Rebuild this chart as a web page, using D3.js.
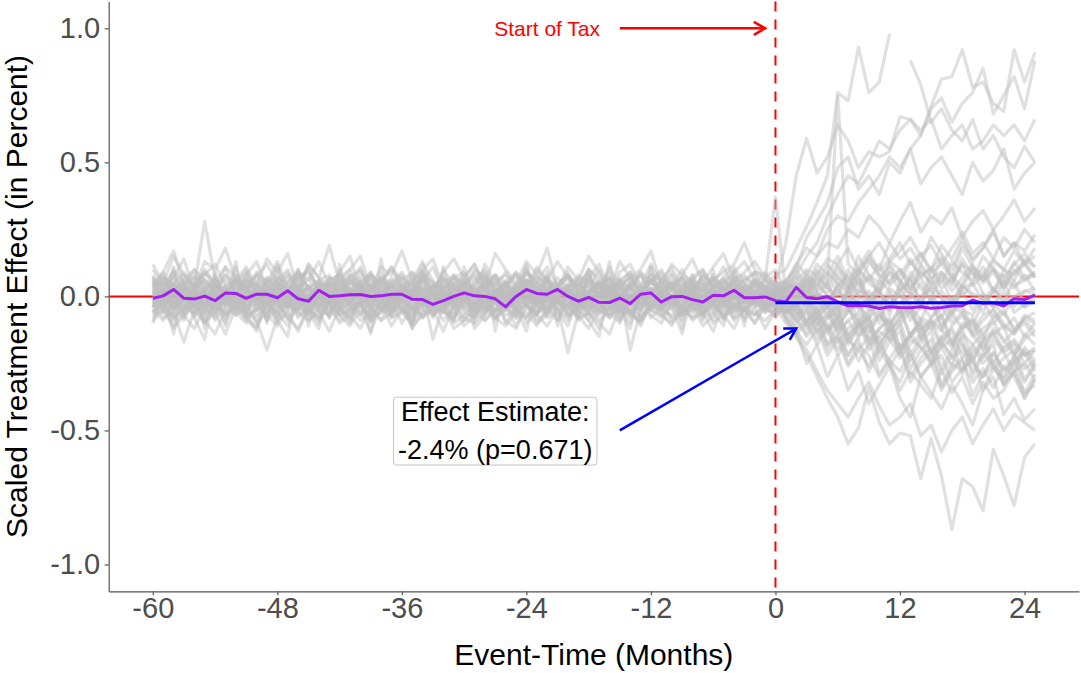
<!DOCTYPE html>
<html>
<head>
<meta charset="utf-8">
<script src="https://cdn.jsdelivr.net/npm/d3@7"></script>
<style>
  body { margin: 0; background: #fff; }
  svg { display: block; }
</style>
</head>
<body>
<div id="chart"></div>
<script>
const FONT = "Liberation Sans, Arial, sans-serif";
const COLOR_TREATED = "#a020f0";
const COLOR_PLACEBO = "#bebebe";
const COLOR_EFFECT = "#0000ff";
const COLOR_TAX = "#ff0000";
const COLOR_AXIS = "#555555";
const COLOR_TICKTEXT = "#4d4d4d";

// event time (months relative to start of tax)
const eventMonths = d3.range(-60, 26);
const xTicks = [-60, -48, -36, -24, -12, 0, 12, 24];
const yTicks = [-1.0, -0.5, 0.0, 0.5, 1.0];

// treated unit, scaled treatment effect, months -60 .. 25
const treatedEffect = [
  -0.007, 0.002, 0.026, -0.007, -0.010, 0.001, -0.016, 0.013, 0.011, -0.007,
  0.008, 0.008, -0.005, 0.021, -0.009, -0.018, 0.023, 0.000, 0.002, 0.006,
  0.007, 0.000, 0.002, 0.008, 0.008, -0.011, -0.012, -0.030, -0.016, 0.000,
  0.013, 0.002, 0.000, -0.009, -0.039, 0.000, 0.026, 0.011, 0.008, 0.026,
  0.000, -0.018, -0.004, -0.022, -0.023, -0.006, -0.027, 0.008, 0.013, -0.021,
  -0.001, 0.000, -0.012, -0.021, 0.004, 0.002, 0.023, -0.005, -0.005, -0.002,
  -0.016,
  -0.020, 0.034, -0.004, -0.009, -0.001, -0.020, -0.035, -0.034, -0.036, -0.045,
  -0.039, -0.041, -0.042, -0.039, -0.044, -0.041, -0.036, -0.035, -0.014, -0.026,
  -0.024, -0.036, -0.009, -0.012, 0.005
];

// effect estimate over the post period
const effectEstimate = -0.024;
const effectSpan = [0, 25];
const effectLabel = ["Effect Estimate:", "-2.4% (p=0.671)"];
const taxLabel = "Start of Tax";

// placebo units, in hundredths; pre period = months -60 .. 0
const placeboPre = [
  [3,-2,5,1,-4,2,6,-1,0,4, -3,2,5,-2,1,3,-4,0,2,6, -1,-3,4,2,0,-5,3,1,-2,4, 6,0,-3,2,5,-1,1,-4,3,2, 0,5,-2,-1,4,3,-3,1,6,2, -2,0,3,-4,5,1,-1,2,4,0, 3],
  [-4,1,-6,3,2,-3,-1,4,-5,0, 2,-4,1,3,-2,-6,0,2,-3,1, 4,-2,-5,0,3,1,-4,2,-1,-3, 1,4,-2,0,-5,3,2,-1,-4,0, -6,2,1,-3,4,0,-2,-5,1,3, -1,-4,2,0,-3,1,4,-2,-1,2, -3],
  [6,4,9,2,7,5,3,8,1,6, 4,7,2,5,9,3,6,1,4,8, 5,2,7,3,6,9,1,4,7,2, 5,8,3,6,1,4,9,5,2,7, 3,6,8,1,5,4,7,2,6,9, 3,5,1,8,4,6,2,7,5,3, 6],
  [-7,-3,-8,-5,-2,-9,-4,-6,-1,-8, -5,-3,-7,-2,-6,-9,-4,-1,-7,-5, -3,-8,-6,-2,-4,-9,-5,-7,-3,-1, -6,-8,-4,-2,-7,-5,-3,-9,-6,-1, -4,-8,-2,-5,-7,-3,-6,-9,-1,-4, -8,-5,-2,-7,-3,-6,-4,-8,-1,-5, -6],
  [2,5,1,8,4,28,6,-2,3,7, 1,-3,5,2,8,0,4,-1,6,3, 2,7,-2,4,1,5,9,0,3,-1, 6,2,4,8,-2,1,5,3,7,0, 4,-3,2,6,1,5,-1,3,8,2, 0,4,6,-2,3,7,1,5,2,4, 1],
  [-3,-8,-6,-17,-5,-10,-2,-7,-4,-9, -12,-3,-6,-1,-8,-5,-10,-2,-7,-4, -9,-6,-3,-11,-5,-8,-1,-6,-4,-10, -7,-2,-9,-5,-3,-8,-6,-11,-4,-2, -7,-5,-9,-3,-6,-10,-1,-8,-4,-5, -7,-3,-9,-6,-2,-8,-5,-4,-10,-3, -6],
  [5,9,17,4,10,6,2,11,7,3, 8,12,5,1,9,6,13,4,7,10, 2,8,5,11,3,9,6,1,10,4, 7,12,3,8,5,2,9,6,11,4, 8,3,10,7,1,6,9,4,12,5, 2,8,6,10,3,7,11,5,9,8, 4],
  [-2,3,-5,0,-4,1,-7,2,-3,-6, -9,-20,-8,-3,-5,0,-4,-7,-1,-6, -3,-9,-2,-5,1,-4,-8,-2,-6,0, -3,-7,-1,-5,-4,-8,0,-3,-6,-2, -5,-1,-7,-4,-2,-6,-3,0,-5,-8, -2,-4,-6,-1,-3,-7,-5,-2,-4,-1, -3],
  [1,-3,4,-1,2,-5,3,0,-2,5, -4,1,3,-3,0,4,-2,2,-5,1, 3,-1,5,-4,0,2,-3,4,1,-2, 0,3,-5,2,-1,4,0,-3,2,-4, -21,-6,1,3,-2,0,4,-1,2,-3, 5,1,-4,0,3,-2,1,4,-1,2, -1],
  [4,0,-3,2,5,-1,3,-4,1,6, 2,-2,4,0,-5,3,1,-3,5,2, -1,4,0,-2,3,6,-4,1,2,-3, 4,0,5,-1,-3,2,6,1,-2,3, 0,-4,2,5,-1,3,-20,-5,2,4, 0,-3,1,5,-2,3,0,4,-1,2, 1],
  [-1,2,-4,3,0,-2,5,-3,1,-5, 2,-1,4,-2,0,3,-4,1,-3,2, 5,-1,0,-4,3,1,-2,4,-5,0, 2,-3,1,4,-1,-2,3,0,-4,2, 1,-3,5,0,-2,4,-1,2,-3,1, 0,3,-2,4,6,9,12,20,10,6, 37],
  [8,-6,11,-9,5,-12,9,-4,13,-8, 6,-10,12,-5,8,-11,4,-7,10,-3, 7,-9,14,-6,3,-12,9,-8,11,-4, 6,-10,8,-13,5,-7,12,-2,9,-11, 4,-8,10,-6,13,-9,7,-5,11,-3, 8,-12,6,-9,10,-4,7,-11,9,-6, 5],
  [0,2,-1,1,3,-2,0,2,1,-1, 3,0,-2,1,2,-1,0,3,-2,1, 2,0,-1,3,1,-2,2,0,1,-1, 3,-2,0,2,1,-1,2,0,-2,3, 1,-1,2,0,3,-2,1,0,2,-1, 3,1,-2,0,2,1,-1,3,0,2, 1],
  [-5,-9,-2,-7,-12,-4,-8,-1,-6,-10, -3,-7,-11,-5,-2,-9,-6,-13,-4,-8, -1,-10,-5,-7,-3,-12,-6,-2,-9,-4, -11,-7,-3,-8,-5,-1,-10,-6,-4,-9, -2,-7,-12,-5,-8,-3,-6,-10,-4,-1, -9,-6,-3,-11,-7,-2,-8,-5,-10,-4, -7],
  [7,3,10,5,1,8,12,4,6,2, 9,5,13,3,7,10,1,6,8,4, 11,2,7,5,9,3,12,6,1,8, 4,10,7,2,5,9,3,11,6,1, 8,4,7,12,3,5,9,2,6,10, 4,7,1,8,5,11,3,6,9,2, 5],
  [-2,1,-3,0,2,-4,1,-1,3,-2, 0,-3,2,1,-4,0,3,-2,1,-1, -3,2,0,-2,4,-1,-3,1,0,2, -1,-4,2,0,1,-3,3,-1,-2,1, 0,2,-3,1,-1,3,-2,0,1,-4, 2,-1,0,3,-2,1,-3,0,2,-1, 0],
  [3,6,1,4,8,2,5,-1,7,3, 0,6,4,9,2,-2,5,3,7,1, 4,8,0,6,2,5,-1,3,7,4, 1,5,9,2,6,0,4,8,3,-1, 5,2,7,4,1,6,3,9,0,5, 2,7,4,1,8,3,6,0,4,7, 2],
  [-6,-2,-9,-4,0,-7,-3,-10,-1,-5, -8,-2,-6,-11,-3,-7,0,-4,-9,-5, -2,-8,-6,-1,-10,-4,-7,-3,-5,-9, 0,-6,-2,-8,-4,-11,-3,-7,-1,-5, -9,-3,-6,-2,-8,-4,-10,0,-5,-7, -3,-9,-1,-6,-4,-8,-2,-5,-7,-3, -4],
  [10,4,7,14,2,9,5,11,0,8, 13,3,6,10,1,12,7,4,9,15, 2,8,5,11,6,0,10,14,3,7, 9,1,12,5,8,4,11,2,6,13, 7,3,10,5,1,9,12,4,8,6, 11,2,7,10,3,5,9,13,6,4, 8],
  [-1,-4,2,-6,0,-3,1,-8,-2,3, -5,-1,-7,2,-3,0,-6,1,-4,-9, -2,3,-5,-1,0,-7,2,-3,-6,1, -4,-8,0,-2,3,-5,-1,-7,2,-3, 0,-6,-2,1,-4,-9,0,-3,2,-5, -1,-6,3,-2,-4,0,-8,1,-3,-5, -2],
  [-10,2,-14,5,-8,-16,3,-11,6,-7, -13,1,-9,-15,4,-6,-12,7,-4,-10, -1,-14,3,-8,-5,-11,2,-16,-3,-9, 5,-12,-7,1,-10,-4,-13,3,-8,-6, -11,0,-9,-15,4,-5,-12,2,-7,-10, -3,-14,1,-8,-6,-11,3,-9,-4,-12, -5],
  [12,5,15,8,3,13,10,18,6,11, 4,14,9,16,2,12,7,19,5,10, 15,3,11,8,17,6,13,1,9,14, 7,12,4,16,10,5,13,8,18,3, 11,6,15,9,2,13,7,10,17,4, 12,8,14,5,11,16,6,9,13,7, 10],
  [1,-2,0,3,-1,2,-3,1,0,-2, 2,1,-1,0,3,-2,1,-3,2,0, -1,2,1,-2,0,3,-1,1,-2,2, 0,-3,1,2,-1,0,3,-2,1,-1, 2,0,-2,1,3,-1,0,2,-3,1, -1,2,0,-2,1,3,-1,0,2,-2, 0],
  [5,1,-2,4,7,0,3,-3,6,2, -1,5,8,1,4,-2,6,3,0,7, 2,-3,5,4,1,8,-1,3,6,0, 4,7,2,-2,5,1,6,3,-1,4, 8,2,0,5,3,7,-2,4,1,6, 3,0,5,2,7,4,-1,3,6,2, 3],
  [-8,-4,-11,-6,-2,-9,-14,-5,-7,-3, -10,-6,-1,-8,-12,-4,-9,-2,-7,-11, -5,-13,-3,-8,-6,-10,-1,-7,-4,-12, -9,-5,-2,-8,-11,-6,-3,-10,-7,-4, -1,-9,-6,-12,-3,-8,-5,-11,-2,-7, -10,-4,-8,-6,-13,-2,-9,-5,-7,-3, -8],
  [4,8,2,6,10,3,7,1,5,9, 0,6,3,8,4,11,2,7,5,1, 9,3,6,10,4,0,8,5,2,7, 3,9,6,1,4,8,2,10,5,3, 7,0,6,4,9,2,5,8,1,6, 4,10,3,7,2,5,9,1,6,4, 2],
  [-3,0,-5,-1,-4,2,-6,-2,0,-3, -7,-1,1,-4,-2,-5,0,-3,-6,-1, 2,-4,-2,-7,0,-3,-5,1,-2,-4, -1,-6,0,-3,-5,-2,1,-4,-7,-1, -3,0,-5,-2,-4,1,-6,-3,0,-2, -5,-1,-4,-7,-2,0,-3,-6,-1,-4, -2],
  [2,7,4,0,5,9,3,6,1,8, 4,2,7,5,10,3,0,6,8,2, 5,9,1,4,7,3,6,11,2,5, 8,0,4,7,3,9,5,1,6,4, 2,8,5,3,7,0,4,9,6,2, 5,3,8,1,6,4,7,2,5,9, 4],
  [-4,3,-2,5,-6,1,-3,4,-5,2, -1,6,-4,0,3,-7,2,-2,5,-3, 1,-5,4,-1,2,-6,3,0,-4,5, -2,1,-5,3,-1,4,-3,2,-6,0, 3,-4,1,5,-2,0,-5,3,-1,2, -4,1,4,-3,0,2,-5,3,-2,1, -1],
  [6,-3,9,-5,4,-7,8,-2,11,-6, 3,-9,7,-1,10,-4,5,-8,12,-3, 6,-7,9,-2,4,-10,8,-5,3,-6, 11,-1,7,-8,5,-4,10,-3,6,-9, 2,-5,9,-2,7,-6,4,-8,11,-1, 5,-7,8,-4,3,-9,10,-2,6,-5, 4],
  [0,-1,1,-2,0,2,-1,0,1,-1, 0,2,-2,1,0,-1,1,0,-2,2, 0,-1,1,0,2,-1,0,-2,1,0, -1,1,2,-1,0,1,-2,0,1,-1, 2,0,-1,1,0,-2,1,0,-1,2, 0,1,-1,0,2,-1,1,0,-2,1, 0],
  [-9,-5,-12,-7,-3,-10,-6,-14,-4,-8, -11,-2,-9,-6,-13,-5,-8,-3,-10,-7, -12,-4,-9,-6,-1,-11,-7,-5,-13,-3, -8,-10,-6,-2,-9,-12,-4,-7,-11,-5, -3,-8,-6,-10,-14,-4,-7,-9,-2,-6, -11,-5,-8,-3,-10,-7,-12,-4,-6,-9, -5],
  [2,-1,4,0,-3,3,1,-2,5,-1, 0,3,-2,2,4,-3,1,-1,3,0, -2,4,1,-3,2,0,5,-1,-2,3, 1,-4,2,0,3,-1,4,-2,1,0, 3,-3,2,1,-1,4,0,-2,3,1, -1,2,4,-3,0,1,3,-2,2,0, 1],
  [-3,0,-1,-5,2,-2,-4,1,-3,-1, -5,0,-2,-4,1,-3,-1,-6,0,-2, -4,1,-3,-5,-1,0,-2,-4,2,-3, -1,-5,0,-2,-4,1,-3,-1,-6,0, -2,-4,1,-3,-5,-1,0,-2,-4,1, -3,-1,-5,0,-2,-4,1,-3,-1,-2, -3],
  [5,2,7,3,0,6,4,1,8,3, 5,0,6,2,7,4,1,5,3,8, 0,4,6,2,5,1,7,3,4,0, 6,2,5,8,1,3,6,4,0,5, 7,2,4,1,6,3,8,0,5,2, 4,7,1,3,6,2,5,0,4,3, 2],
  [-1,-6,-3,0,-8,-2,-5,-1,-7,-4, 0,-6,-2,-9,-3,-1,-5,-7,0,-4, -2,-8,-3,-6,0,-5,-1,-7,-4,-2, -9,-3,0,-6,-1,-5,-8,-2,-4,0, -7,-3,-1,-6,-4,-2,-8,0,-5,-3, -1,-7,-2,-4,-6,0,-3,-5,-1,-4, -2],
  [3,7,-2,5,1,-4,6,2,-1,4, 8,0,-3,5,2,7,-1,3,6,-2, 4,1,7,-3,2,5,0,-4,6,3, -1,4,8,1,-2,5,3,-3,7,0, 2,6,-1,4,1,-4,5,3,0,7, -2,4,2,6,-1,3,5,-3,1,4, 2],
  [-2,-5,1,-3,-7,0,-4,-1,-6,2, -3,-5,-1,-8,0,-2,-6,1,-4,-3, -7,-1,0,-5,-2,-4,1,-6,-3,0, -5,-2,-7,1,-3,-4,0,-6,-1,-2, -5,1,-4,-3,-7,0,-2,-5,1,-4, -1,-6,-3,0,-5,-2,-4,-1,-3,-2, -4],
  [1,3,0,2,-1,4,1,3,-2,2, 0,4,1,-1,3,2,0,5,-1,2, 3,0,1,4,-2,2,3,1,0,4, 2,-1,3,1,5,0,2,-2,4,1, 3,0,2,5,-1,1,4,0,3,2, -1,2,4,1,0,3,-2,2,1,3, 0],
  [-6,-1,-4,-8,-2,-5,0,-7,-3,-6, -1,-9,-4,-2,-7,-5,0,-8,-3,-6, -2,-4,-9,-1,-5,-7,-3,0,-6,-8, -2,-5,-4,-9,-1,-7,-3,-6,0,-5, -8,-2,-4,-7,-1,-6,-3,-9,-2,-5, 0,-7,-4,-6,-1,-8,-3,-5,-2,-6, -4],
  [4,9,1,6,3,10,5,0,7,2, 8,4,11,1,6,9,3,5,0,7, 10,2,6,4,8,1,9,5,3,7, 0,6,10,2,4,8,1,7,5,3, 9,0,6,2,11,4,7,1,5,8, 3,6,0,9,4,2,7,5,1,6, 3],
  [0,-3,2,-1,1,-4,0,2,-2,1, -3,0,3,-1,-2,1,-4,2,0,-1, 1,-3,2,0,-2,3,-1,0,-4,1, 2,-2,0,1,-3,2,-1,0,3,-2, -1,1,-4,0,2,-1,3,-3,0,1, -2,2,0,-1,1,-3,2,0,-2,1, -1],
  [-4,2,-7,0,-3,4,-6,1,-5,-1, 3,-8,0,-4,2,-6,-2,1,-5,3, -7,0,-3,2,-6,-1,4,-4,0,-8, 1,-3,-6,2,-2,-5,3,-7,0,-1, -4,2,-6,0,-3,1,-7,-2,3,-5, 0,-4,2,-6,-1,-3,1,-5,0,-2, -3],
  [7,2,5,9,3,6,1,8,4,10, 2,7,5,0,9,3,6,8,1,5, 4,9,2,7,3,6,10,1,5,8, 3,0,7,4,9,2,6,5,8,1, 4,7,3,10,0,6,2,8,5,3, 9,1,6,4,7,2,5,8,3,6, 4],
  [-2,0,-4,-1,-3,1,-5,-2,0,-3, -1,-4,2,-2,-5,0,-3,-1,1,-4, -2,0,-5,-1,-3,2,-2,-4,0,-1, -3,1,-5,-2,0,-4,-1,-3,2,-2, 0,-4,-1,-5,1,-3,-2,0,-4,-1, -3,2,-2,-5,0,-1,-4,-2,1,-3, -1],
  [1,5,3,-1,4,2,6,0,3,5, -2,4,1,7,2,0,5,3,-1,6, 2,4,0,5,3,1,7,-1,4,2, 6,0,3,5,1,-2,4,6,2,3, 0,5,1,4,7,-1,3,2,6,0, 4,1,5,3,-2,6,2,4,0,3, 5],
  [-5,-2,-8,-3,-6,-1,-9,-4,-2,-7, -5,-3,-10,-1,-6,-4,-8,-2,-5,-7, -3,-9,-1,-6,-4,-2,-8,-5,-3,-7, -1,-6,-9,-4,-2,-5,-8,-3,-6,-1, -7,-4,-2,-9,-5,-3,-6,-1,-8,-4, -2,-7,-5,-3,-9,-1,-6,-4,-2,-5, -3],
  [2,-4,5,-2,3,-6,1,4,-3,6, -1,2,-5,4,0,-3,5,-2,3,-4, 1,6,-1,-5,3,2,-3,4,-1,5, -4,2,0,-6,3,1,-2,5,-3,2, 4,-1,-5,3,0,6,-2,1,-4,3, 5,-3,2,-1,4,-5,1,3,-2,0, 2]
];

// placebo units, in hundredths; post period = months 1 .. 25 (null = missing)
const placeboPost = [
  [2,-3,4,-1,5,-4,1,6,-2,3,-5,2,7,-3,4,0,-6,3,5,-2,1,6,-4,2,3],
  [-4,-8,-2,-10,-6,-12,-5,-9,-14,-7,-11,-4,-15,-8,-10,-13,-6,-12,-9,-16,-7,-11,-14,-8,-10],
  [2,6,10,8,14,12,18,10,15,20,13,17,22,15,19,12,18,24,16,20,14,22,18,25,20],
  [-2,-6,-10,-5,-13,-9,-16,-11,-8,-18,-12,-20,-14,-10,-22,-15,-19,-12,-24,-17,-14,-21,-18,-25,-20],
  [3,10,22,28,35,48,52,40,45,38,50,46,55,42,48,52,45,38,50,43,47,55,40,46,50],
  [-5,-12,-25,-18,-30,-22,-35,-28,-40,-33,-26,-38,-45,-30,-36,-42,-33,-40,-48,-35,-30,-44,-38,-46,-42],
  [20,45,59,46,52,64,58,48,54,52,54,67,66,62,66,55,60,64,55,58,64,60,64,58,66],
  [-8,-14,-10,-18,-12,-22,-16,-20,-26,-18,-24,-28,-20,-30,-25,-22,-32,-27,-24,-30,-26,-33,-28,-25,-31],
  [0,-4,2,-6,-1,-8,3,-5,-2,-10,1,-7,-3,-9,0,-12,-4,-6,-11,-2,-8,-5,-13,-7,-9],
  [4,0,7,2,-3,5,1,8,-1,4,9,2,6,-2,10,3,7,0,5,11,2,8,4,6,9],
  [1,4,-2,6,0,-5,3,8,-3,2,-7,5,1,-4,7,-1,-8,4,0,-6,3,-2,6,-4,1],
  [-8,-15,-22,-30,-38,-45,-55,-49,-34,-47,-55,-51,-52,-68,-53,-67,-87,-68,-71,-80,-57,-67,-78,-60,-55],
  [1,-1,3,0,-2,4,-3,2,1,-4,3,0,-1,5,-2,2,-3,4,1,-1,3,-2,0,2,1],
  [-3,-10,-5,-14,-8,-4,-17,-11,-7,-20,-13,-9,-22,-15,-11,-19,-26,-14,-18,-23,-16,-21,-28,-19,-24],
  [5,12,18,15,25,30,28,35,40,45,52,48,55,60,71,81,82,92,78,80,72,69,92,80,91],
  [-1,-5,-2,-8,-4,-11,-6,-3,-13,-7,-10,-5,-15,-9,-12,-7,-17,-11,-8,-14,-10,-6,-12,-9,-13],
  [5,12,8,15,20,18,25,22,30,26,20,28,35,24,30,27,33,22,28,32,25,30,36,28,33],
  [-10,-15,-20,-28,-35,-40,-45,-38,-32,-41,-48,-45,-40,-52,-48,-58,-50,-45,-55,-48,-42,-50,-44,-47,-50],
  [10,18,26,35,45,76,73,93,76,80,98,null,88,79,65,70,62,58,66,55,60,52,48,56,50],
  [-2,1,-4,-1,-7,-3,0,-9,-5,-2,-11,-6,-3,-13,-8,-4,-10,-6,-14,-9,-5,-12,-8,-15,-10],
  [-5,-9,-14,-7,-18,-11,-22,-15,-10,-24,-17,-13,-27,-20,-16,-29,-22,-18,-25,-30,-21,-27,-23,-32,-26],
  [2,8,15,20,30,38,45,42,50,58,55,62,66,60,70,74,65,72,76,85,68,75,82,70,88],
  [2,5,-1,8,3,0,10,4,7,1,12,6,2,9,5,14,8,3,11,6,10,4,13,7,9],
  [5,8,3,10,6,12,4,9,14,7,11,5,13,8,10,15,6,12,9,7,13,10,8,14,11],
  [-3,-8,-15,-10,-20,-14,-25,-18,-22,-30,-24,-35,-28,-33,-38,-27,-36,-30,-40,-32,-38,-35,-28,-36,-33],
  [3,7,1,9,4,11,6,2,13,8,5,10,3,12,7,9,4,14,8,6,11,3,9,12,7],
  [-6,-2,-9,-4,-12,-7,-3,-14,-8,-5,-16,-10,-6,-13,-9,-18,-11,-7,-15,-12,-9,-17,-13,-10,-15],
  [3,0,6,2,5,75,12,8,15,10,20,14,18,12,22,16,10,20,14,18,25,15,20,12,18],
  [3,-2,6,1,-4,4,8,0,-3,6,2,-5,9,3,-1,7,-2,5,10,1,-4,6,3,8,2],
  [6,2,9,4,12,7,3,15,8,5,13,10,6,16,9,12,7,18,11,8,14,10,17,12,15],
  [-6,-3,-11,-8,-4,-14,-9,-6,-17,-12,-8,-19,-14,-10,-21,-15,-12,-18,-24,-16,-13,-20,-17,-22,-19],
  [0,-6,-12,-8,-18,-15,-22,-16,-28,-20,-26,-32,-22,-30,-25,-35,-28,-24,-32,-27,-34,-26,-30,-38,-31],
  [-2,-6,-4,-10,-7,-13,-9,-15,-11,-18,-12,-21,-16,-19,-24,-17,-22,-27,-19,-25,-21,-28,-24,-20,-26],
  [3,-1,5,0,-4,2,-2,6,-5,1,-3,4,-6,0,3,-8,-1,2,-5,1,-3,-7,0,-4,-2],
  [-5,-3,-9,-6,-12,-8,-15,-10,-18,-13,-16,-22,-14,-19,-25,-17,-23,-20,-28,-21,-26,-30,-22,-27,-24],
  [6,10,4,12,8,15,6,11,17,9,14,20,12,16,10,19,14,22,13,18,24,15,20,17,23],
  [-1,-4,0,-7,-3,-9,-5,-2,-11,-6,-13,-8,-4,-15,-9,-12,-18,-10,-14,-20,-12,-16,-22,-14,-18],
  [0,2,-3,1,-2,3,-5,-1,2,-4,0,-6,1,-3,-8,-2,0,-5,-7,-1,-4,2,-6,-3,-1],
  [-7,-12,-9,-16,-11,-20,-14,-24,-18,-15,-26,-20,-30,-23,-19,-33,-25,-28,-22,-35,-27,-31,-24,-36,-29],
  [4,1,7,3,9,5,2,10,6,12,4,8,14,7,11,5,13,9,6,15,10,7,12,16,11],
  [-3,-7,-5,-11,-8,-6,-14,-10,-16,-12,-9,-19,-15,-11,-21,-16,-13,-23,-18,-14,-25,-19,-16,-22,-20],
  [1,-2,3,-4,0,-6,2,-3,-8,-1,-5,1,-9,-4,-2,-11,-6,-3,-13,-7,-5,-10,-14,-8,-6],
  [-4,-9,-6,-13,-10,-17,-12,-9,-20,-15,-11,-23,-18,-14,-26,-19,-16,-29,-21,-17,-27,-23,-20,-31,-25],
  [2,5,1,7,3,9,4,0,8,2,6,10,3,7,1,9,5,12,4,8,2,10,6,13,7],
  [-6,-4,-10,-7,-14,-9,-18,-12,-8,-21,-15,-11,-24,-17,-13,-27,-20,-15,-30,-22,-18,-33,-25,-21,-28],
  [0,-3,-1,-6,-2,-8,-4,-11,-6,-3,-13,-8,-5,-16,-10,-7,-18,-12,-9,-20,-14,-11,-22,-16,-13],
  [5,3,8,4,1,7,3,10,5,2,9,6,0,11,4,8,2,7,12,5,9,3,10,6,8],
  [-9,-13,-18,-12,-22,-16,-26,-20,-15,-29,-23,-18,-32,-25,-21,-34,-27,-23,-37,-29,-24,-33,-28,-38,-31]
];
const PLACEBO_UNIT = 0.01;

// annotation anchors (data coordinates)
const taxLabelAt = [-22, 1.0];
const taxArrow = [[-15, 1.0], [-1, 1.0]];
const effectLabelAt = [-27, -0.5];
const effectArrow = [[-15, -0.5], [2, -0.12]];

// ---------- layout ----------
const chartSize = { width: 1081, height: 673 };
const plot = { left: 108.7, right: 1079, top: 1.5, bottom: 591.3 };

const svg = d3.select("#chart").append("svg")
  .attr("width", chartSize.width)
  .attr("height", chartSize.height)
  .attr("font-family", FONT);

const x = d3.scaleLinear().domain([-64.25, 29.25]).range([plot.left, plot.right]);
const y = d3.scaleLinear().domain([-1.1, 1.1]).range([plot.bottom, plot.top]);

const refLayer = svg.append("g");
const lineLayer = svg.append("g");
const annoLayer = svg.append("g");
const axisLayer = svg.append("g");

// reference lines: zero and start of tax
refLayer.append("line")
  .attr("x1", plot.left).attr("x2", plot.right)
  .attr("y1", y(0)).attr("y2", y(0))
  .attr("stroke", COLOR_TAX).attr("stroke-width", 2);
refLayer.append("line")
  .attr("x1", x(0)).attr("x2", x(0))
  .attr("y1", plot.top).attr("y2", plot.bottom)
  .attr("stroke", COLOR_TAX).attr("stroke-width", 2)
  .attr("stroke-dasharray", "10,8");

const line = d3.line()
  .defined(d => d[1] != null)
  .x(d => x(d[0]))
  .y(d => y(d[1]));

// placebo lines
placeboPre.forEach((pre, i) => {
  const post = placeboPost[i] || [];
  const pts = pre.map((v, j) => [-60 + j, v * PLACEBO_UNIT])
    .concat(post.map((v, j) => [1 + j, v == null ? null : v * PLACEBO_UNIT]));
  lineLayer.append("path")
    .attr("d", line(pts))
    .attr("fill", "none")
    .attr("stroke", COLOR_PLACEBO)
    .attr("stroke-opacity", 0.48)
    .attr("stroke-width", 3.2)
    .attr("stroke-linejoin", "round");
});

// treated line
lineLayer.append("path")
  .attr("d", line(eventMonths.map((m, i) => [m, treatedEffect[i]])))
  .attr("fill", "none")
  .attr("stroke", COLOR_TREATED)
  .attr("stroke-width", 3)
  .attr("stroke-linejoin", "round");

// effect estimate
lineLayer.append("path")
  .attr("d", line(effectSpan.map(m => [m, effectEstimate])))
  .attr("fill", "none")
  .attr("stroke", COLOR_EFFECT)
  .attr("stroke-width", 3);

function drawArrow(g, from, to, color) {
  const x1 = x(from[0]), y1 = y(from[1]), x2 = x(to[0]), y2 = y(to[1]);
  const a = Math.atan2(y2 - y1, x2 - x1);
  const len = 13, spread = Math.PI / 6;
  g.append("line")
    .attr("x1", x1).attr("y1", y1).attr("x2", x2).attr("y2", y2)
    .attr("stroke", color).attr("stroke-width", 2.5);
  g.append("path")
    .attr("d", "M" + (x2 - len * Math.cos(a - spread)) + "," + (y2 - len * Math.sin(a - spread)) +
      "L" + x2 + "," + y2 +
      "L" + (x2 - len * Math.cos(a + spread)) + "," + (y2 - len * Math.sin(a + spread)))
    .attr("fill", "none").attr("stroke", color).attr("stroke-width", 2.5)
    .attr("stroke-linejoin", "miter");
}

// start of tax annotation
annoLayer.append("text")
  .attr("x", x(taxLabelAt[0])).attr("y", y(taxLabelAt[1]))
  .attr("dy", "0.37em")
  .attr("text-anchor", "middle")
  .attr("font-size", 21)
  .attr("fill", COLOR_TAX)
  .text(taxLabel);
drawArrow(annoLayer, taxArrow[0], taxArrow[1], COLOR_TAX);

// effect estimate annotation
drawArrow(annoLayer, effectArrow[0], effectArrow[1], COLOR_EFFECT);
const labelG = annoLayer.append("g");
const labelBox = labelG.append("rect");
const labelText = labelG.append("text")
  .attr("text-anchor", "middle")
  .attr("font-size", 27)
  .attr("fill", "#000");
labelText.selectAll("tspan").data(effectLabel).enter().append("tspan")
  .attr("x", x(effectLabelAt[0]))
  .attr("y", y(effectLabelAt[1]))
  .attr("dy", (d, i) => i === 0 ? "-0.36em" : "1.06em")
  .text(d => d);
const bb = labelText.node().getBBox();
labelBox
  .attr("x", bb.x - 4.5).attr("y", bb.y + 0.5)
  .attr("width", bb.width + 9).attr("height", bb.height - 0.5)
  .attr("rx", 3)
  .attr("fill", "#fff")
  .attr("stroke", "#c4c4c4")
  .attr("stroke-width", 1);

// axes
axisLayer.append("g")
  .attr("transform", "translate(" + plot.left + ",0)")
  .call(d3.axisLeft(y).tickValues(yTicks).tickFormat(d => d.toFixed(1))
    .tickSize(4).tickSizeOuter(0).tickPadding(4.5))
  .call(g => {
    g.select(".domain").attr("stroke", COLOR_AXIS).attr("stroke-width", 1.2);
    g.selectAll(".tick line").attr("stroke", COLOR_AXIS).attr("stroke-width", 1.2);
    g.selectAll(".tick text")
      .attr("font-size", 29).attr("font-family", FONT).attr("fill", COLOR_TICKTEXT);
  });

axisLayer.append("g")
  .attr("transform", "translate(0," + plot.bottom + ")")
  .call(d3.axisBottom(x).tickValues(xTicks).tickFormat(d => String(d))
    .tickSize(4).tickSizeOuter(0).tickPadding(2))
  .call(g => {
    g.select(".domain").attr("stroke", COLOR_AXIS).attr("stroke-width", 1.2);
    g.selectAll(".tick line").attr("stroke", COLOR_AXIS).attr("stroke-width", 1.2);
    g.selectAll(".tick text")
      .attr("font-size", 29).attr("font-family", FONT).attr("fill", COLOR_TICKTEXT);
  });

// axis titles
axisLayer.append("text")
  .attr("x", (plot.left + plot.right) / 2)
  .attr("y", 665)
  .attr("text-anchor", "middle")
  .attr("font-size", 30)
  .attr("fill", "#000")
  .text("Event-Time (Months)");

axisLayer.append("text")
  .attr("transform", "translate(27," + ((plot.top + plot.bottom) / 2) + ") rotate(-90)")
  .attr("text-anchor", "middle")
  .attr("font-size", 30)
  .attr("fill", "#000")
  .text("Scaled Treatment Effect (in Percent)");
</script>
</body>
</html>
